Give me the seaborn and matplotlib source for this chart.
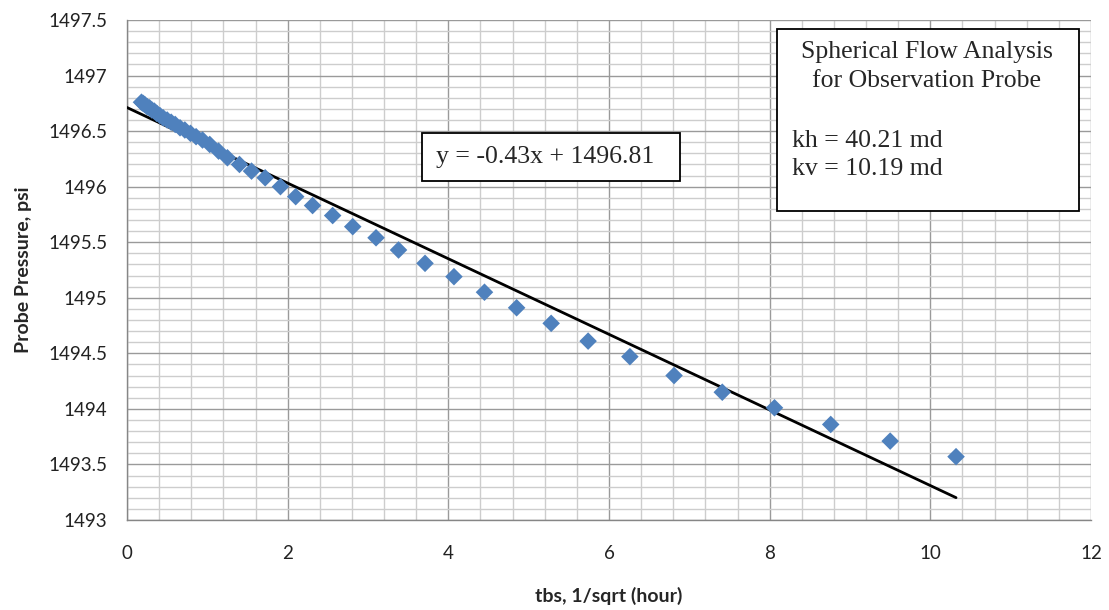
import numpy as np
import pandas as pd
import matplotlib
matplotlib.use("Agg")
import matplotlib.pyplot as plt
from matplotlib.ticker import MultipleLocator
from matplotlib.patches import Rectangle
import seaborn as sns

# Probe pressure vs. spherical time function
tbs = [0.18, 0.20, 0.22, 0.25, 0.28, 0.31, 0.34, 0.37, 0.41, 0.45,
       0.50, 0.55, 0.60, 0.66, 0.72, 0.79, 0.86, 0.94, 1.03, 1.14,
       1.25, 1.40, 1.55, 1.72, 1.91, 2.10, 2.31, 2.56, 2.81, 3.10,
       3.38, 3.71, 4.07, 4.45, 4.85, 5.28, 5.74, 6.26, 6.81, 7.41,
       8.06, 8.76, 9.50, 10.32]
pressure = [1496.76, 1496.75, 1496.74, 1496.72, 1496.71, 1496.69, 1496.68, 1496.66, 1496.64, 1496.62,
            1496.60, 1496.58, 1496.56, 1496.53, 1496.51, 1496.48, 1496.45, 1496.42, 1496.38, 1496.32,
            1496.26, 1496.20, 1496.14, 1496.08, 1496.00, 1495.91, 1495.83, 1495.74, 1495.64, 1495.54,
            1495.43, 1495.31, 1495.19, 1495.05, 1494.91, 1494.77, 1494.61, 1494.47, 1494.30, 1494.15,
            1494.01, 1493.86, 1493.71, 1493.57]

equation_text = "y = -0.43x + 1496.81"
box_title = ["Spherical Flow Analysis", "for Observation Probe"]
box_lines = ["kh = 40.21 md", "kv = 10.19 md"]

sns.set_style("white")
plt.rcParams["font.family"] = ["Lato", "DejaVu Sans"]

W, H = 1109, 610
fig = plt.figure(figsize=(W / 100, H / 100), dpi=100)
ax = fig.add_axes([127 / W, 1 - 520 / H, (1091 - 127) / W, 500 / H])

df = pd.DataFrame({"tbs": tbs, "p": pressure})

# least-squares straight line through the measured points
slope, intercept = np.polyfit(df["tbs"], df["p"], 1)
fit = pd.DataFrame({"tbs": [0.0, df["tbs"].max()]})
fit["p"] = intercept + slope * fit["tbs"]
sns.lineplot(data=fit, x="tbs", y="p", color="black", lw=2, ax=ax, zorder=3)

sns.scatterplot(data=df, x="tbs", y="p", marker="D", s=80, color="#4F81BD",
                edgecolor="none", ax=ax, zorder=4)

ax.set_xlim(0, 12)
ax.set_ylim(1493, 1497.5)
ax.xaxis.set_major_locator(MultipleLocator(2))
ax.xaxis.set_minor_locator(MultipleLocator(0.4))
ax.yaxis.set_major_locator(MultipleLocator(0.5))
ax.yaxis.set_minor_locator(MultipleLocator(0.1))
ax.set_yticklabels([f"{v:g}" for v in ax.get_yticks()])

ax.grid(which="major", color="#9a9a9a", lw=1.0, zorder=0)
ax.grid(which="minor", color="#cdcdcd", lw=1.0, zorder=0)
ax.set_axisbelow(True)

for side in ["top", "right"]:
    ax.spines[side].set_visible(False)
for side in ["left", "bottom"]:
    ax.spines[side].set_color("#868686")
    ax.spines[side].set_linewidth(1.0)

ax.tick_params(which="major", direction="out", length=6, width=1, color="#868686",
               labelsize=13.5, labelcolor="#222222")
ax.tick_params(axis="x", pad=12)
ax.tick_params(axis="y", pad=8)
ax.tick_params(which="minor", length=0)

ax.set_xlabel("tbs, 1/sqrt (hour)", fontsize=14, fontweight="bold", labelpad=18)
ax.set_ylabel("Probe Pressure, psi", fontsize=14, fontweight="bold", labelpad=12)


def px_rect(x0, y0, x1, y1):
    fig.patches.append(Rectangle((x0 / W, 1 - y1 / H), (x1 - x0) / W, (y1 - y0) / H,
                                 transform=fig.transFigure, facecolor="white",
                                 edgecolor="black", lw=1.3, zorder=5))


serif = ["Liberation Serif", "DejaVu Serif"]
fs = 18.5

# equation box
px_rect(422, 133, 680, 181)
fig.text(436 / W, 1 - 157 / H, equation_text, family=serif, fontsize=fs,
         ha="left", va="center", zorder=6)

# analysis summary box
px_rect(777, 29, 1079, 211)
fig.text(927 / W, 1 - 52 / H, box_title[0], family=serif, fontsize=fs,
         ha="center", va="center", zorder=6)
fig.text(927 / W, 1 - 81 / H, box_title[1], family=serif, fontsize=fs,
         ha="center", va="center", zorder=6)
fig.text(792 / W, 1 - 141 / H, box_lines[0], family=serif, fontsize=fs,
         ha="left", va="center", zorder=6)
fig.text(792 / W, 1 - 169 / H, box_lines[1], family=serif, fontsize=fs,
         ha="left", va="center", zorder=6)

fig.savefig("out.png", dpi=100, facecolor="white")
